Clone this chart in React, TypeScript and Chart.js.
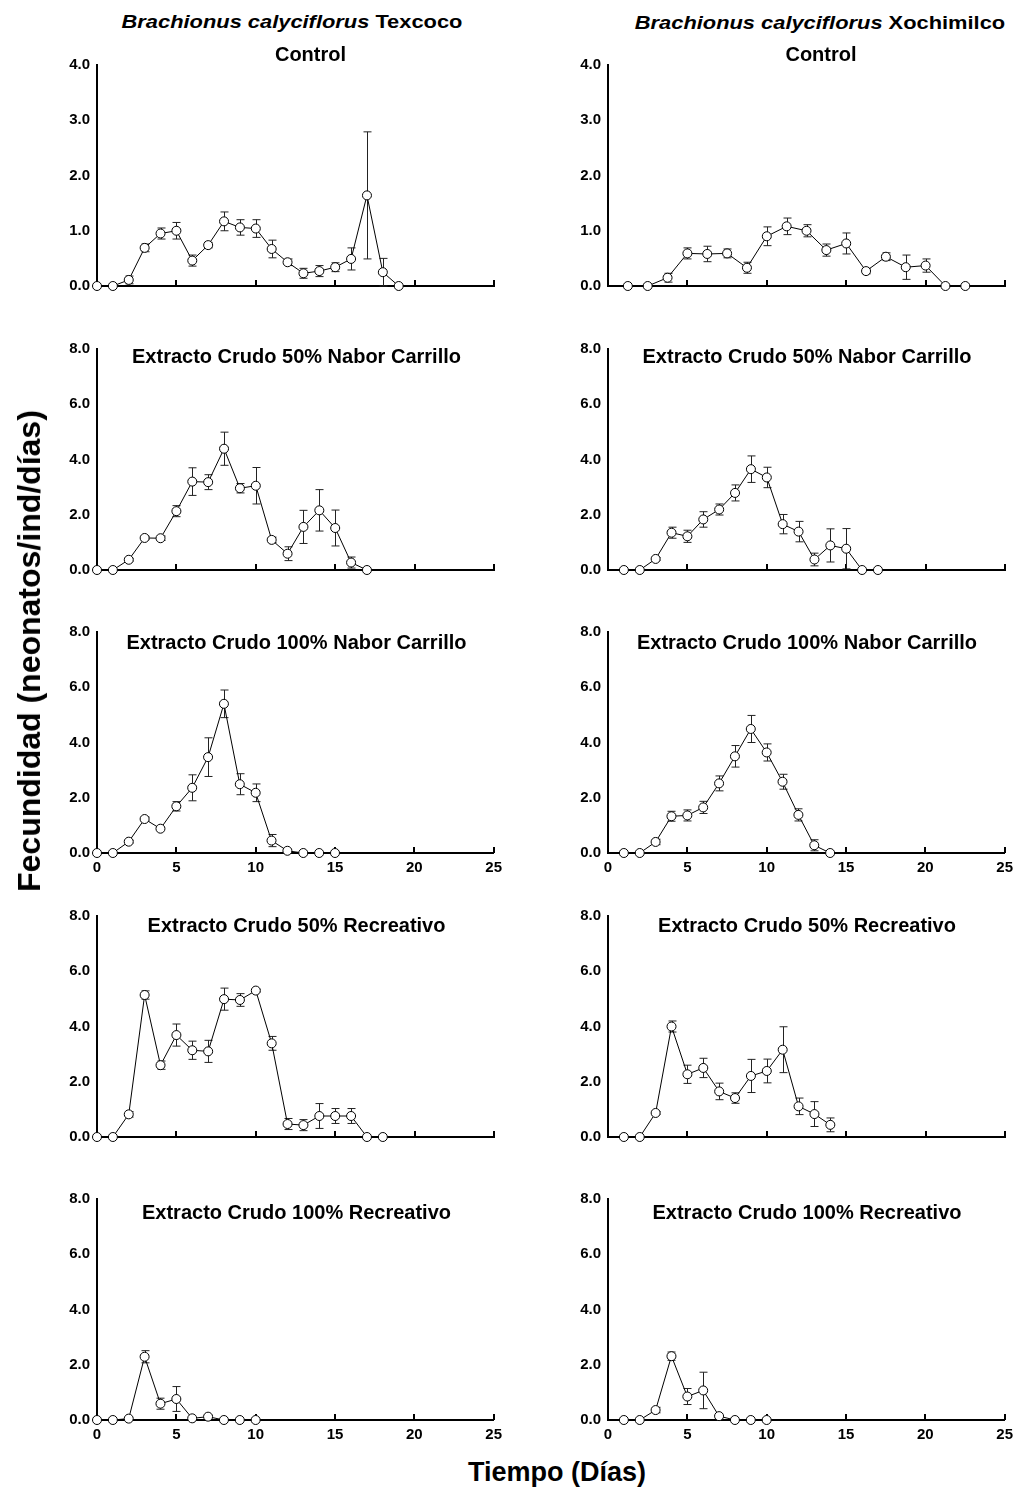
import React, { useEffect, useRef } from "react";
import { Chart, registerables } from "chart.js";

Chart.register(...registerables);

const FONT = '"Liberation Sans", Arial, Helvetica, sans-serif';

// ---- Brachionus calyciflorus Texcoco ----
const texControlDays = [0, 1, 2, 3, 4, 5, 6, 7, 8, 9, 10, 11, 12, 13, 14, 15, 16, 17, 18, 19];
const texControlMean = [0, 0, 0.11, 0.69, 0.95, 1.0, 0.46, 0.74, 1.17, 1.06, 1.04, 0.67, 0.43, 0.23, 0.27, 0.34, 0.49, 1.64, 0.25, 0];
const texControlSE = [0, 0, 0.07, 0.07, 0.1, 0.15, 0.1, 0.05, 0.17, 0.14, 0.16, 0.16, 0.06, 0.09, 0.1, 0.08, 0.2, 1.15, 0.25, 0];

const texNC50Days = [0, 1, 2, 3, 4, 5, 6, 7, 8, 9, 10, 11, 12, 13, 14, 15, 16, 17];
const texNC50Mean = [0, 0, 0.37, 1.16, 1.15, 2.13, 3.2, 3.18, 4.39, 2.96, 3.05, 1.09, 0.59, 1.56, 2.16, 1.52, 0.27, 0];
const texNC50SE = [0, 0, 0.05, 0.06, 0.08, 0.2, 0.5, 0.27, 0.6, 0.17, 0.66, 0.1, 0.25, 0.6, 0.75, 0.65, 0.2, 0];

const texNC100Days = [0, 1, 2, 3, 4, 5, 6, 7, 8, 9, 10, 11, 12, 13, 14, 15];
const texNC100Mean = [0, 0, 0.41, 1.23, 0.88, 1.69, 2.36, 3.47, 5.4, 2.49, 2.18, 0.45, 0.08, 0, 0, 0];
const texNC100SE = [0, 0, 0.05, 0.07, 0.05, 0.17, 0.47, 0.7, 0.5, 0.38, 0.32, 0.22, 0.03, 0, 0, 0.03];

const texR50Days = [0, 1, 2, 3, 4, 5, 6, 7, 8, 9, 10, 11, 12, 13, 14, 15, 16, 17, 18];
const texR50Mean = [0, 0, 0.82, 5.14, 2.6, 3.69, 3.14, 3.1, 4.99, 4.96, 5.3, 3.39, 0.47, 0.43, 0.76, 0.76, 0.76, 0, 0];
const texR50SE = [0, 0, 0.1, 0.15, 0.15, 0.4, 0.33, 0.4, 0.4, 0.23, 0.05, 0.25, 0.2, 0.2, 0.45, 0.27, 0.27, 0, 0];

const texR100Days = [0, 1, 2, 3, 4, 5, 6, 7, 8, 9, 10];
const texR100Mean = [0, 0, 0.05, 2.29, 0.59, 0.76, 0.06, 0.12, 0, 0, 0];
const texR100SE = [0, 0, 0, 0.22, 0.2, 0.45, 0, 0.05, 0, 0, 0];

// ---- Brachionus calyciflorus Xochimilco ----
const xocControlDays = [1.25, 2.5, 3.75, 5, 6.25, 7.5, 8.75, 10, 11.25, 12.5, 13.75, 15, 16.25, 17.5, 18.75, 20, 21.25, 22.5];
const xocControlMean = [0, 0, 0.15, 0.59, 0.58, 0.59, 0.33, 0.9, 1.08, 1.0, 0.65, 0.77, 0.27, 0.53, 0.34, 0.37, 0, 0];
const xocControlSE = [0, 0, 0.08, 0.1, 0.14, 0.08, 0.1, 0.17, 0.15, 0.11, 0.11, 0.19, 0.05, 0.07, 0.22, 0.12, 0, 0];

const xocNC50Days = [1, 2, 3, 4, 5, 6, 7, 8, 9, 10, 11, 12, 13, 14, 15, 16, 17];
const xocNC50Mean = [0, 0, 0.4, 1.35, 1.22, 1.83, 2.19, 2.79, 3.65, 3.35, 1.66, 1.39, 0.38, 0.89, 0.77, 0, 0];
const xocNC50SE = [0, 0, 0.05, 0.2, 0.22, 0.28, 0.2, 0.29, 0.48, 0.37, 0.35, 0.37, 0.23, 0.6, 0.73, 0, 0];

const xocNC100Days = [1, 2, 3, 4, 5, 6, 7, 8, 9, 10, 11, 12, 13, 14];
const xocNC100Mean = [0, 0, 0.4, 1.33, 1.36, 1.65, 2.52, 3.5, 4.49, 3.64, 2.58, 1.38, 0.28, 0];
const xocNC100SE = [0, 0, 0.1, 0.18, 0.2, 0.22, 0.27, 0.39, 0.49, 0.31, 0.27, 0.22, 0.2, 0];

const xocR50Days = [1, 2, 3, 4, 5, 6, 7, 8, 9, 10, 11, 12, 13, 14];
const xocR50Mean = [0, 0, 0.87, 4.0, 2.27, 2.5, 1.65, 1.41, 2.21, 2.39, 3.16, 1.11, 0.83, 0.44];
const xocR50SE = [0, 0, 0.05, 0.2, 0.33, 0.35, 0.3, 0.19, 0.6, 0.43, 0.83, 0.3, 0.45, 0.25];

const xocR100Days = [1, 2, 3, 4, 5, 6, 7, 8, 9, 10];
const xocR100Mean = [0, 0, 0.36, 2.31, 0.85, 1.07, 0.14, 0, 0, 0];
const xocR100SE = [0, 0, 0.1, 0.15, 0.29, 0.66, 0, 0, 0, 0];

// Axis ticks
const xTickValues = [0, 5, 10, 15, 20, 25];
const yMaxControl = 4;
const yMaxTreatment = 8;

// Text
const siteTitles = ["Texcoco", "Xochimilco"];
const speciesName = "Brachionus calyciflorus";
const panelTitles = [
  "Control",
  "Extracto Crudo 50% Nabor Carrillo",
  "Extracto Crudo 100% Nabor Carrillo",
  "Extracto Crudo 50% Recreativo",
  "Extracto Crudo 100% Recreativo",
];
const yAxisTitle = "Fecundidad (neonatos/ind/días)";
const xAxisTitle = "Tiempo (Días)";

type Series = { days: number[]; mean: number[]; se: number[] };

const SERIES: Series[][] = [
  [
    { days: texControlDays, mean: texControlMean, se: texControlSE },
    { days: texNC50Days, mean: texNC50Mean, se: texNC50SE },
    { days: texNC100Days, mean: texNC100Mean, se: texNC100SE },
    { days: texR50Days, mean: texR50Mean, se: texR50SE },
    { days: texR100Days, mean: texR100Mean, se: texR100SE },
  ],
  [
    { days: xocControlDays, mean: xocControlMean, se: xocControlSE },
    { days: xocNC50Days, mean: xocNC50Mean, se: xocNC50SE },
    { days: xocNC100Days, mean: xocNC100Mean, se: xocNC100SE },
    { days: xocR50Days, mean: xocR50Mean, se: xocR50SE },
    { days: xocR100Days, mean: xocR100Mean, se: xocR100SE },
  ],
];

// Layout (pixels)
const AXIS_X = [97, 608];
const ROW_TOP = [61, 345, 628, 912, 1195];
const PLOT_W = 397;
const PLOT_H = 225;
const Y_AXIS_W = 60;
const X_AXIS_H = 30;
const PAD_TOP = 12;
const PAD_RIGHT = 14;
const SUBTITLE_X = [296.5, 807];
const SUBTITLE_Y = [54, 356, 642, 925, 1212];
const ROWS_WITH_X_LABELS = [2, 4];

function Panel({ col, row }: { col: number; row: number }) {
  const ref = useRef<HTMLCanvasElement | null>(null);
  const s = SERIES[col][row];
  const yMax = row === 0 ? yMaxControl : yMaxTreatment;
  const showX = ROWS_WITH_X_LABELS.includes(row);

  useEffect(() => {
    if (!ref.current) return;

    const errorBars = {
      id: "errorBars",
      beforeDatasetsDraw(chart: any) {
        const { ctx, scales } = chart;
        const xs = scales.x;
        const ys = scales.y;
        ctx.save();
        // inward major tick marks on the x axis
        ctx.strokeStyle = "#000";
        ctx.lineWidth = 2;
        for (const v of xTickValues) {
          if (v === 0) continue;
          const px = Math.round(xs.getPixelForValue(v));
          ctx.beginPath();
          ctx.moveTo(px, ys.bottom);
          ctx.lineTo(px, ys.bottom - 6);
          ctx.stroke();
        }
        // standard error bars with caps
        ctx.strokeStyle = "#222";
        ctx.lineWidth = 1;
        s.days.forEach((d, i) => {
          const e = s.se[i];
          if (!e) return;
          const px = Math.round(xs.getPixelForValue(d)) + 0.5;
          const top = ys.getPixelForValue(s.mean[i] + e);
          const bot = ys.getPixelForValue(Math.max(0, s.mean[i] - e));
          ctx.beginPath();
          ctx.moveTo(px, top);
          ctx.lineTo(px, bot);
          ctx.moveTo(px - 4, top);
          ctx.lineTo(px + 4, top);
          ctx.moveTo(px - 4, bot);
          ctx.lineTo(px + 4, bot);
          ctx.stroke();
        });
        ctx.restore();
      },
    };

    const chart = new Chart(ref.current, {
      type: "line",
      data: {
        datasets: [
          {
            data: s.days.map((d, i) => ({ x: d, y: s.mean[i] })),
            borderColor: "#000",
            borderWidth: 1,
            pointRadius: 4.5,
            pointBorderWidth: 1,
            pointBackgroundColor: "#fff",
            pointBorderColor: "#000",
            tension: 0,
            clip: false as any,
          },
        ],
      },
      options: {
        responsive: false,
        animation: false,
        devicePixelRatio: 1,
        events: [],
        layout: { padding: { top: PAD_TOP, right: PAD_RIGHT, left: 0, bottom: 0 } },
        plugins: {
          legend: { display: false },
          tooltip: { enabled: false },
          title: { display: false },
        },
        scales: {
          x: {
            type: "linear",
            min: 0,
            max: 25,
            grid: { display: false, drawTicks: false },
            border: { display: true, color: "#000", width: 2 },
            ticks: {
              display: showX,
              stepSize: 5,
              maxRotation: 0,
              autoSkip: false,
              padding: 6,
              color: "#000",
              font: { family: FONT, size: 15, weight: "bold" },
            },
            afterFit: (sc: any) => {
              sc.height = X_AXIS_H;
            },
          },
          y: {
            type: "linear",
            min: 0,
            max: yMax,
            grid: { display: false, drawTicks: false },
            border: { display: true, color: "#000", width: 2 },
            ticks: {
              stepSize: yMax / 4,
              padding: 7,
              color: "#000",
              font: { family: FONT, size: 15, weight: "bold" },
              callback: (v: any) => Number(v).toFixed(1),
            },
            afterFit: (sc: any) => {
              sc.width = Y_AXIS_W;
            },
          },
        },
      } as any,
      plugins: [errorBars],
    });
    return () => chart.destroy();
  }, [col, row]);

  const w = Y_AXIS_W + PLOT_W + PAD_RIGHT;
  const h = PAD_TOP + PLOT_H + X_AXIS_H;
  return (
    <canvas
      ref={ref}
      width={w}
      height={h}
      style={{
        position: "absolute",
        left: AXIS_X[col] - Y_AXIS_W,
        top: ROW_TOP[row] - PAD_TOP,
        width: w,
        height: h,
      }}
    />
  );
}

function Label({
  x,
  y,
  size,
  children,
  scaleX = 1,
  rotate = 0,
}: {
  x: number;
  y: number;
  size: number;
  children: React.ReactNode;
  scaleX?: number;
  rotate?: number;
}) {
  return (
    <div
      style={{
        position: "absolute",
        left: x,
        top: y,
        transform: `translate(-50%, -50%) rotate(${rotate}deg) scaleX(${scaleX})`,
        fontFamily: FONT,
        fontWeight: "bold",
        fontSize: size,
        lineHeight: 1,
        whiteSpace: "nowrap",
        color: "#000",
      }}
    >
      {children}
    </div>
  );
}

export default function App() {
  return (
    <div
      style={{
        position: "absolute",
        left: 0,
        top: 0,
        width: 1019,
        height: 1505,
        background: "#fff",
        overflow: "hidden",
      }}
    >
      <Label x={292} y={21} size={19} scaleX={1.15}>
        <span style={{ fontStyle: "italic" }}>{speciesName}</span> {siteTitles[0]}
      </Label>
      <Label x={820} y={22} size={19} scaleX={1.15}>
        <span style={{ fontStyle: "italic" }}>{speciesName}</span> {siteTitles[1]}
      </Label>

      {[0, 1].map((col) =>
        panelTitles.map((t, row) => (
          <React.Fragment key={`${col}-${row}`}>
            <Panel col={col} row={row} />
            <Label x={SUBTITLE_X[col] + (row === 0 ? 14 : 0)} y={SUBTITLE_Y[row]} size={20}>
              {t}
            </Label>
          </React.Fragment>
        ))
      )}

      <Label x={29} y={651} size={32} rotate={-90}>
        {yAxisTitle}
      </Label>
      <Label x={557} y={1472} size={27}>
        {xAxisTitle}
      </Label>
    </div>
  );
}
